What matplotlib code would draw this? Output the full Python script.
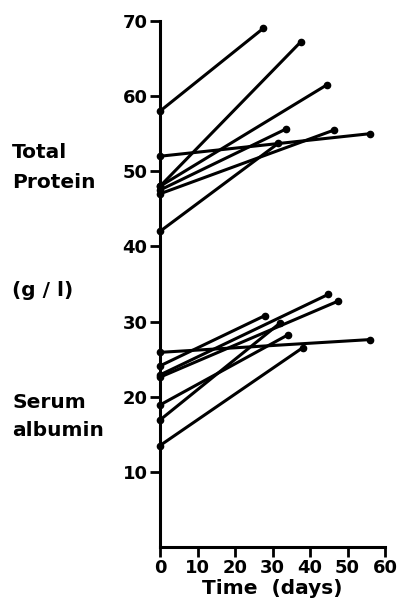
import matplotlib.pyplot as plt
import numpy as np

# total protein (g/l): value at day 0 and at follow-up
tp_start = [58, 48, 48, 47.5, 47, 52, 42]
tp_end_day = [27.5, 37.5, 44.5, 33.5, 46.5, 56, 31.5]
tp_end = [69, 67.2, 61.5, 55.6, 55.5, 55, 53.7]

# serum albumin (g/l)
alb_start = [24.1, 22.9, 22.6, 18.9, 16.9, 25.9, 13.5]
alb_end_day = [28, 44.8, 47.4, 34, 32, 56, 38]
alb_end = [30.8, 33.6, 32.7, 28.2, 29.8, 27.6, 26.5]

xticks = [0, 10, 20, 30, 40, 50, 60]
yticks = [10, 20, 30, 40, 50, 60, 70]

plt.rcParams['font.family'] = 'DejaVu Sans'
plt.rcParams['font.weight'] = 'bold'

fig = plt.figure(figsize=(4, 6.15), dpi=100)
ax = fig.add_axes([0.4, 0.1106, 0.5625, 0.8553])

for s, d, e in zip(tp_start, tp_end_day, tp_end):
    ax.plot([0, d], [s, e], color='black', lw=2.2, marker='o', ms=4.5,
            solid_capstyle='round', clip_on=False)
for s, d, e in zip(alb_start, alb_end_day, alb_end):
    ax.plot([0, d], [s, e], color='black', lw=2.2, marker='o', ms=4.5,
            solid_capstyle='round', clip_on=False)

ax.set_xlim(0, 60)
ax.set_ylim(0, 70)
ax.set_xticks(xticks)
ax.set_yticks(yticks)
ax.spines['top'].set_visible(False)
ax.spines['right'].set_visible(False)
ax.spines['left'].set_linewidth(2.2)
ax.spines['bottom'].set_linewidth(2.2)
ax.tick_params(axis='both', width=2, length=7, labelsize=13, pad=2)
ax.set_xlabel('Time  (days)', fontsize=14.5, fontweight='bold', labelpad=1)

lab = dict(fontsize=14.5, fontweight='bold', ha='left', va='center',
           transform=fig.transFigure)
fig.text(0.03, 1 - 152/615, 'Total', **lab)
fig.text(0.03, 1 - 182/615, 'Protein', **lab)
fig.text(0.03, 1 - 290/615, '(g / l)', **lab)
fig.text(0.03, 1 - 403/615, 'Serum', **lab)
fig.text(0.03, 1 - 430/615, 'albumin', **lab)

fig.savefig('out.png', dpi=100)
